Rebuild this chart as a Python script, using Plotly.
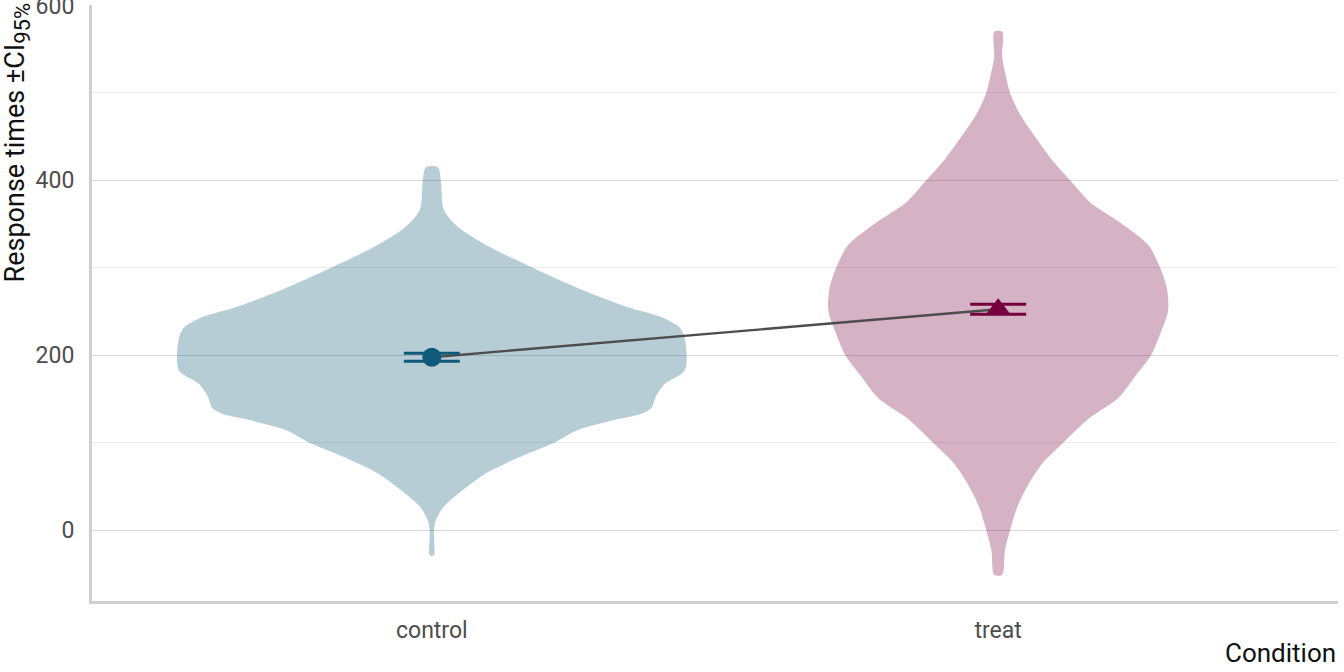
import plotly.graph_objects as go

# ---------------- data ----------------
categories = ["control", "treat"]
cat_pos = [1, 2]

# violin density profiles (half-width in category units at each response-time level)
ctrl_y = [-29, 0, 11, 26, 45, 64, 83, 99, 114, 125, 133, 140, 152, 167, 182, 198,
          221, 232, 244, 255, 274, 300, 327, 347, 366, 400, 415]
ctrl_hw = [0.0035, 0.0038, 0.007, 0.020, 0.053, 0.093, 0.153, 0.213, 0.256, 0.316,
           0.370, 0.388, 0.395, 0.411, 0.446, 0.450, 0.446, 0.437, 0.404, 0.346,
           0.268, 0.178, 0.0935, 0.0459, 0.0212, 0.0159, 0.0106]

treat_y = [-51, -23, 0, 27, 52, 77, 100, 127, 151, 176, 200, 226, 251, 276, 300,
           326, 351, 375, 400, 425, 450, 475, 500, 521, 541, 570]
treat_hw = [0.007, 0.012, 0.021, 0.034, 0.053, 0.079, 0.115, 0.159, 0.212, 0.242,
            0.270, 0.287, 0.300, 0.298, 0.286, 0.265, 0.217, 0.162, 0.127, 0.093,
            0.065, 0.039, 0.021, 0.013, 0.007, 0.007]

means = [197.7, 252.6]
ci_low = [193.1, 246.9]
ci_high = [202.3, 258.3]

y_ticks = [0, 200, 400, 600]

# ---------------- styles ----------------
colors = ["rgb(15,90,120)", "rgb(116,0,61)"]
fills = ["rgba(15,90,120,0.3)", "rgba(116,0,61,0.3)"]
symbols = ["circle", "triangle-up"]
sizes = [19, 22]
FONT = "Roboto, 'Open Sans', sans-serif"

fig = go.Figure()

for pos, ys, hws, fc in [(cat_pos[0], ctrl_y, ctrl_hw, fills[0]),
                         (cat_pos[1], treat_y, treat_hw, fills[1])]:
    xs = [pos + h for h in hws] + [pos - h for h in reversed(hws)]
    yy = list(ys) + list(reversed(ys))
    xs.append(xs[0])
    yy.append(yy[0])
    fig.add_trace(go.Scatter(x=xs, y=yy, mode="lines", fill="toself",
                             fillcolor=fc, line=dict(width=0, shape="spline", smoothing=0.8),
                             hoverinfo="skip", showlegend=False))

# connecting line between means
fig.add_trace(go.Scatter(x=cat_pos, y=means, mode="lines",
                         line=dict(color="#4d4d4d", width=2.4), showlegend=False))

for i in range(2):
    fig.add_trace(go.Scatter(
        x=[cat_pos[i]], y=[means[i]], mode="markers",
        marker=dict(color=colors[i], size=sizes[i], symbol=symbols[i], line=dict(width=0)),
        error_y=dict(type="data", symmetric=False,
                     array=[ci_high[i] - means[i]], arrayminus=[means[i] - ci_low[i]],
                     color=colors[i], thickness=3, width=28),
        showlegend=False))

fig.update_layout(
    width=1344, height=672,
    margin=dict(l=92, r=6, t=5, b=71, autoexpand=False),
    paper_bgcolor="white", plot_bgcolor="white",
    font=dict(family=FONT, color="#4d4d4d"),
    xaxis=dict(range=[0.4, 2.6], tickmode="array", tickvals=cat_pos, ticktext=categories,
               showgrid=False, zeroline=False, showline=True, linecolor="#cfcfcf",
               linewidth=3, ticks="", tickfont=dict(size=23, color="#4d4d4d"),
               ticklabelstandoff=6, automargin=False),
    yaxis=dict(range=[-81, 600.5], tickmode="array", tickvals=y_ticks,
               showgrid=True, gridcolor="#d9d9d9", gridwidth=1,
               minor=dict(dtick=100, tick0=0, showgrid=True, gridcolor="#ebebeb", gridwidth=1),
               zeroline=False, showline=True, linecolor="#cfcfcf", linewidth=3,
               ticks="", tickfont=dict(size=23, color="#4d4d4d"), ticklabelstandoff=10,
               ticklabeloverflow="allow", automargin=False),
    annotations=[
        dict(text="Response times ±CI<sub><span style='font-size:22px'>95%</span></sub>",
             textangle=-90,
             xref="paper", yref="paper", x=-0.06, y=1.008, xanchor="center", yanchor="top",
             showarrow=False, font=dict(size=27, color="#111111", family=FONT)),
        dict(text="Condition", xref="paper", yref="paper", x=1.0, y=-0.087,
             xanchor="right", yanchor="middle", showarrow=False,
             font=dict(size=26, color="#111111", family=FONT)),
    ],
)

fig.write_html("out.html", config={"displayModeBar": False},
               post_script="document.body.style.margin='0';")
